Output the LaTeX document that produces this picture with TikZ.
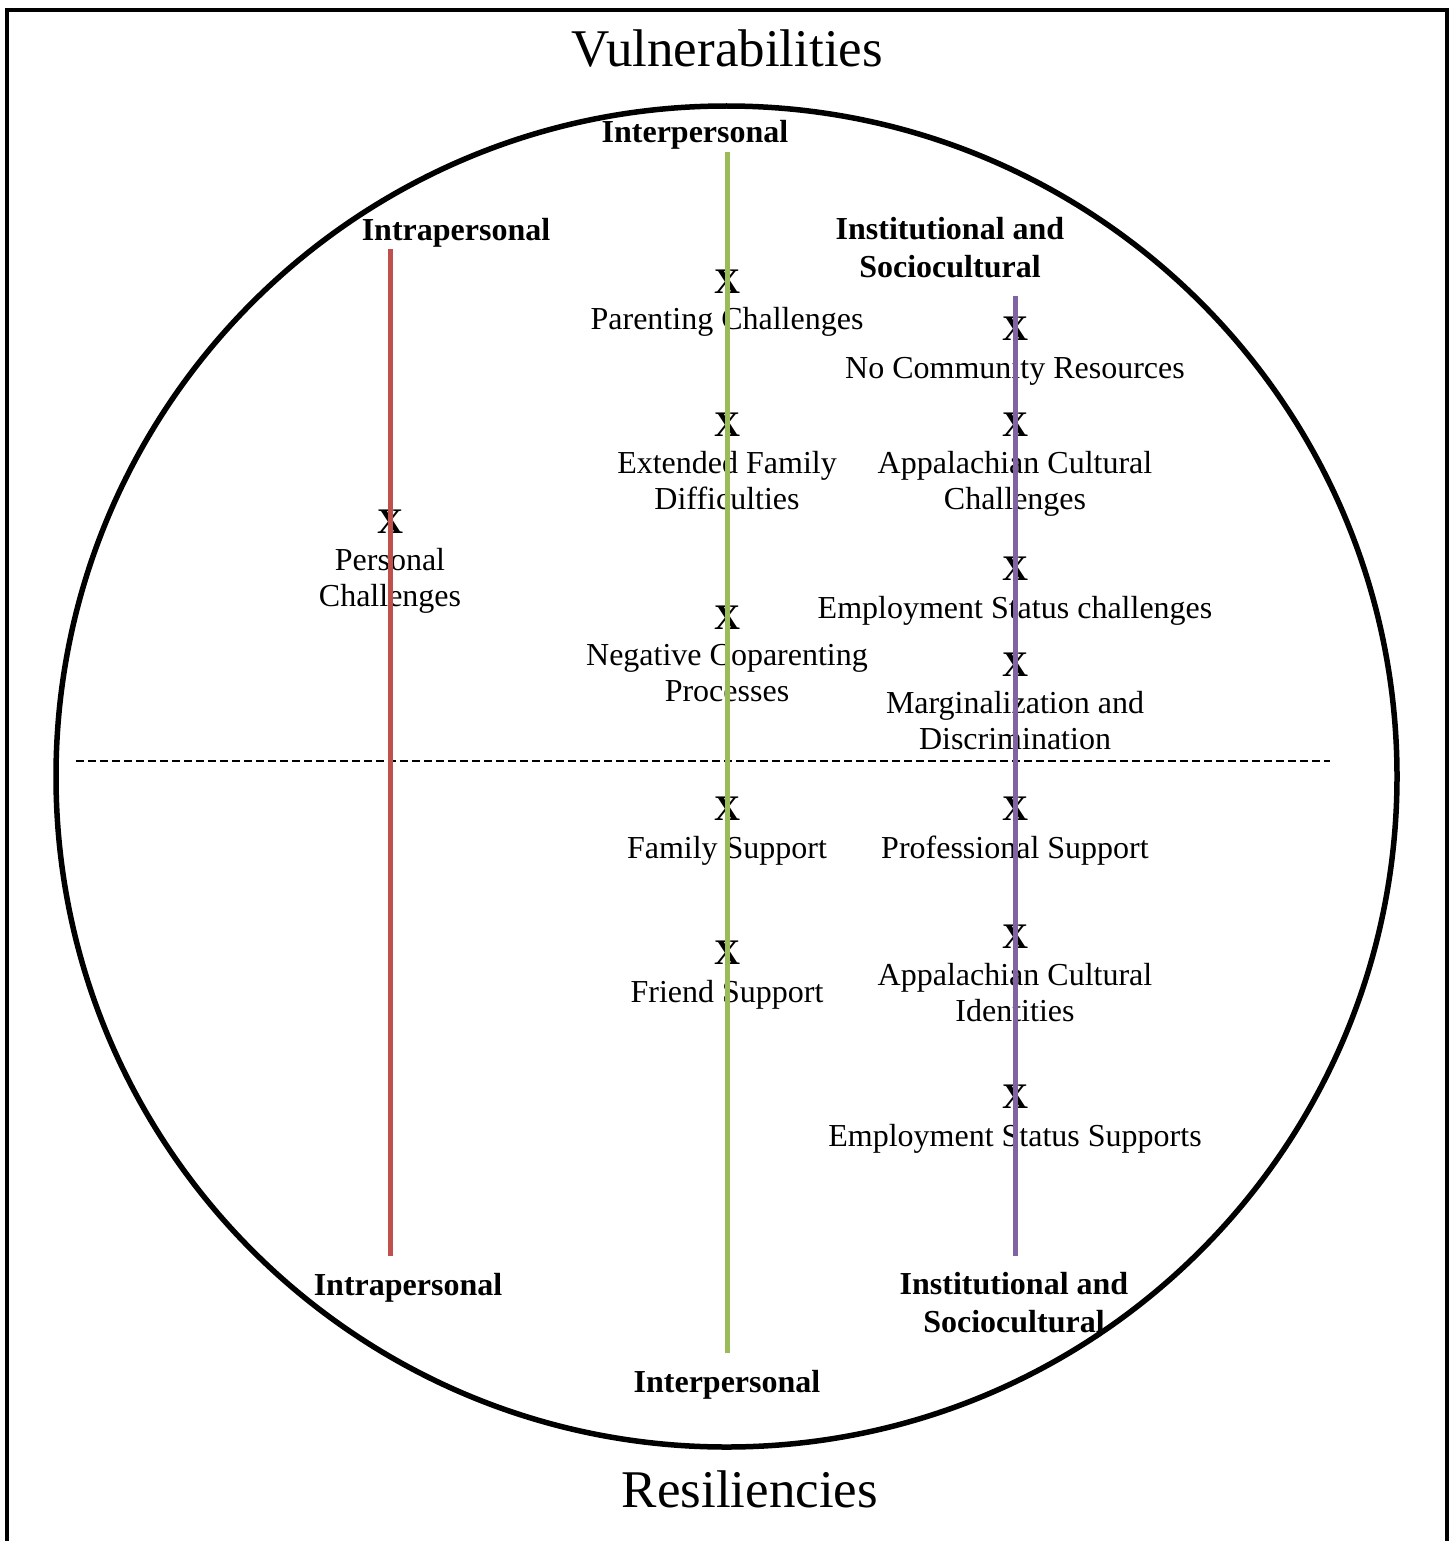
\documentclass[tikz,border=0pt]{standalone}
\usepackage{fontspec}
\setmainfont{Liberation Serif}
\usepackage{xcolor}
\usetikzlibrary{positioning}

\definecolor{intrared}{HTML}{C0504D}
\definecolor{intergreen}{HTML}{9BBB59}
\definecolor{instpurple}{HTML}{8064A2}

\begin{document}
\begin{tikzpicture}[x=1pt, y=-1pt]
    \tikzstyle{heading} = [font=\fontsize{53}{60}\selectfont, anchor=base, inner sep=0pt]
    \tikzstyle{tier} = [font=\fontsize{32}{38}\selectfont\bfseries, anchor=base, align=center, inner sep=0pt]
    \tikzstyle{xmark} = [font=\fontsize{36}{36}\selectfont\bfseries, anchor=base, inner sep=0pt]
    \tikzstyle{entry} = [font=\fontsize{32}{36}\selectfont, anchor=base, align=center, inner sep=0pt]
    \tikzstyle{axis} = [line width=5pt]

    \useasboundingbox (0,0) rectangle (1453,1541);

    % Frame and circle
    \coordinate (frame sw) at (7,1560);
    \coordinate (frame ne) at (1447,10);
    \draw [line width=4pt] (frame sw) |- (frame ne) -- (frame ne |- frame sw);
    \node [draw, circle, line width=5.5pt, minimum size=1341pt, inner sep=0pt] (ring) at (726.5,776.5) {};

    % Split between vulnerabilities and resiliencies
    \coordinate (split left) at (76,761);
    \coordinate (split right) at (1330,761);
    \draw [line width=1.5pt, dash pattern=on 8pt off 4pt] (split left) -- (split right);

    % Headings
    \node [heading] (vuln) at (727,67) {Vulnerabilities};
    \node [heading] (resil) at (750,1507) {Resiliencies};

    % Level labels (base = last line)
    \node [tier] (inter top label) at (695,143) {Interpersonal};
    \node [tier] (intra top label) at (456,240) {Intrapersonal};
    \node [tier] (inst top label) at (950,277) {Institutional and\\Sociocultural};
    \node [tier] (intra bot label) at (408,1295) {Intrapersonal};
    \node [tier] (inst bot label) at (1014,1332) {Institutional and\\Sociocultural};
    \node [tier] (inter bot label) at (727,1392) {Interpersonal};

    % Intrapersonal
    \node [xmark] (x personal) at (390,533) {X};
    \node [entry] (personal) at (390,606) {Personal\\Challenges};

    % Interpersonal
    \node [xmark] (x parenting) at (727,293) {X};
    \node [entry] (parenting) at (727,329) {Parenting Challenges};
    \node [xmark] (x extended) at (727,436) {X};
    \node [entry] (extended) at (727,509) {Extended Family\\Difficulties};
    \node [xmark] (x negative) at (727,629) {X};
    \node [entry] (negative) at (727,701) {Negative Coparenting\\Processes};
    \node [xmark] (x family) at (727,820) {X};
    \node [entry] (family) at (727,858) {Family Support};
    \node [xmark] (x friend) at (727,964) {X};
    \node [entry] (friend) at (727,1002) {Friend Support};

    % Institutional and sociocultural
    \node [xmark] (x community) at (1015,340) {X};
    \node [entry] (community) at (1015,378) {No Community Resources};
    \node [xmark] (x appchall) at (1015,436) {X};
    \node [entry] (appchall) at (1015,509) {Appalachian Cultural\\Challenges};
    \node [xmark] (x empchall) at (1015,580) {X};
    \node [entry] (empchall) at (1015,618) {Employment Status challenges};
    \node [xmark] (x margin) at (1015,676) {X};
    \node [entry] (margin) at (1015,749) {Marginalization and\\Discrimination};
    \node [xmark] (x profsupp) at (1015,820) {X};
    \node [entry] (profsupp) at (1015,858) {Professional Support};
    \node [xmark] (x appident) at (1015,948) {X};
    \node [entry] (appident) at (1015,1021) {Appalachian Cultural\\Identities};
    \node [xmark] (x empsupp) at (1015,1108) {X};
    \node [entry] (empsupp) at (1015,1146) {Employment Status Supports};

    % Axes
    \coordinate (intra top) at (390,249);
    \coordinate (intra bot) at (390,1256);
    \coordinate (inter top) at (727,152);
    \coordinate (inter bot) at (727,1353);
    \coordinate (inst top) at (1015,296);
    \coordinate (inst bot) at (1015,1256);
    \draw [axis, intrared] (intra top) -- (intra bot);
    \draw [axis, intergreen] (inter top) -- (inter bot);
    \draw [axis, instpurple] (inst top) -- (inst bot);
\end{tikzpicture}
\end{document}
